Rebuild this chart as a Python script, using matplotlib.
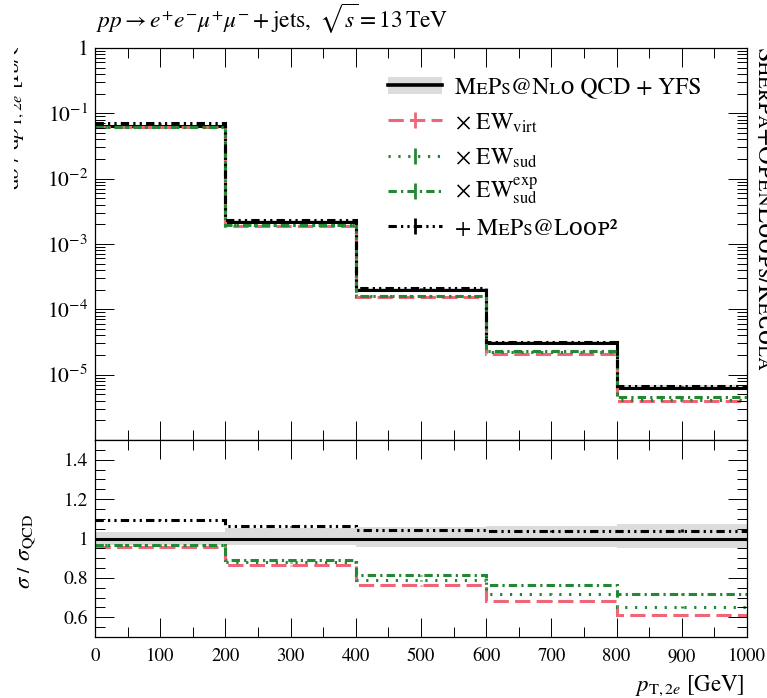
import numpy as np
import matplotlib
matplotlib.use("Agg")
import matplotlib.pyplot as plt
from matplotlib.lines import Line2D
from matplotlib.patches import Rectangle
from matplotlib.transforms import Bbox
from matplotlib.ticker import FixedLocator, FixedFormatter, MultipleLocator, LogLocator, NullFormatter

plt.rcParams['font.family'] = ['STIXGeneral', 'DejaVu Serif', 'DejaVu Sans']
plt.rcParams['mathtext.fontset'] = 'stix'
plt.rcParams['lines.scale_dashes'] = False

# ---------------- data ----------------
bin_edges = [0, 200, 400, 600, 800, 1000]
xsec_qcd = [6.4e-2, 2.19e-3, 2.0e-4, 3.05e-5, 6.35e-6]      # fb/GeV
band_up = [0.032, 0.052, 0.059, 0.062, 0.076]
band_down = [0.035, 0.035, 0.042, 0.042, 0.048]
ratio_ew_virt = [0.956, 0.863, 0.762, 0.683, 0.614]
ratio_ew_sud = [0.965, 0.880, 0.787, 0.720, 0.652]
ratio_ew_sud_exp = [0.968, 0.889, 0.813, 0.762, 0.716]
ratio_loop2 = [1.095, 1.062, 1.044, 1.040, 1.040]
stat_err = [0.003, 0.003, 0.004, 0.005, 0.007]

y_major = [1e0, 1e-1, 1e-2, 1e-3, 1e-4, 1e-5]
y_major_labels = ['1', '$10^{-1}$', '$10^{-2}$', '$10^{-3}$', '$10^{-4}$', '$10^{-5}$']
r_major = [0.6, 0.8, 1.0, 1.2, 1.4]
r_major_labels = ['0.6', '0.8', '1', '1.2', '1.4']

RED = '#EE6677'
GREEN = '#228833'
BLACK = '#000000'
GRAY = '#dcdcdc'

edges = np.array(bin_edges, dtype=float)
centers = 0.5 * (edges[:-1] + edges[1:])
qcd = np.array(xsec_qcd)
up = np.array(band_up)
dn = np.array(band_down)
err = np.array(stat_err)

series = [
    (np.array(ratio_ew_virt), RED, (0, (11, 4.5))),
    (np.array(ratio_ew_sud), GREEN, (0, (1.6, 5.5))),
    (np.array(ratio_ew_sud_exp), GREEN, (0, (6, 3, 1.6, 3))),
    (np.array(ratio_loop2), BLACK, (0, (6, 3, 1.6, 3, 1.6, 3))),
]

W, H = 767, 698
def fx(px):
    return px / W
def fy(py):
    return 1 - py / H

fig = plt.figure(figsize=(W / 100, H / 100), dpi=100)
ax1 = fig.add_axes([fx(95), fy(440), fx(747) - fx(95), fy(48) - fy(440)])
ax2 = fig.add_axes([fx(95), fy(637), fx(747) - fx(95), fy(440) - fy(637)], sharex=ax1)

LW = 2.2
# ---- top panel ----
ax1.stairs(qcd * (1 + up), edges, baseline=qcd * (1 - dn), fill=True, color=GRAY, lw=0)
ax1.stairs(qcd, edges, baseline=None, color=BLACK, lw=LW)
for r, c, ls in series:
    ax1.stairs(qcd * r, edges, baseline=None, color=c, lw=LW, linestyle=ls)
    ax1.errorbar(centers, qcd * r, yerr=qcd * r * err, fmt='none', ecolor=c, elinewidth=2)
ax1.set_yscale('log')
ax1.set_ylim(1e-6, 1)
ax1.set_xlim(0, 1000)
ax1.yaxis.set_major_locator(FixedLocator(y_major))
ax1.yaxis.set_major_formatter(FixedFormatter(y_major_labels))
ax1.yaxis.set_minor_locator(LogLocator(base=10, subs=np.arange(2, 10)))
ax1.yaxis.set_minor_formatter(NullFormatter())

# ---- ratio panel ----
ax2.stairs(1 + up, edges, baseline=1 - dn, fill=True, color=GRAY, lw=0)
ax2.stairs(np.ones_like(qcd), edges, baseline=None, color=BLACK, lw=LW)
for r, c, ls in series:
    ax2.stairs(r, edges, baseline=None, color=c, lw=LW, linestyle=ls)
    ax2.errorbar(centers, r, yerr=r * err, fmt='none', ecolor=c, elinewidth=2)
ax2.set_ylim(0.5, 1.5)
ax2.yaxis.set_major_locator(FixedLocator(r_major))
ax2.yaxis.set_major_formatter(FixedFormatter(r_major_labels))
ax2.yaxis.set_minor_locator(MultipleLocator(0.05))
ax2.xaxis.set_major_locator(MultipleLocator(100))
ax2.xaxis.set_minor_locator(MultipleLocator(50))

for ax in (ax1, ax2):
    ax.tick_params(which='both', direction='in', top=True, right=True, width=0.7, colors='black')
    ax.tick_params(which='major', length=14)
    ax.tick_params(which='minor', length=7)
    ax.tick_params(axis='y', labelsize=14, pad=5)
    ax.tick_params(axis='x', labelsize=13.5, pad=8)
    for s in ax.spines.values():
        s.set_linewidth(0.9)
ax1.tick_params(axis='y', labelsize=15.5)
ax1.tick_params(axis='x', labelbottom=False)

# ---- texts ----
fig.text(fx(96), fy(28), r'$pp \rightarrow e^{+}e^{-}\mu^{+}\mu^{-} + \mathrm{jets},\ \sqrt{s} = 13\,\mathrm{TeV}$',
         fontsize=16.8, ha='left', va='baseline')
fig.text(fx(745), fy(691), r'$p_{\mathrm{T},2e}$ [GeV]', fontsize=16.5, ha='right', va='baseline')

t1 = fig.text(fx(26), fy(190), r'$\mathrm{d}\sigma\ /\ \mathrm{d}p_{\mathrm{T},2e}$ [fb/GeV]', fontsize=16.5,
              rotation=90, ha='right', va='bottom')
t1.set_clip_box(Bbox.from_extents(14, 0, W, H - 48))
t1.set_clip_on(True)
t2 = fig.text(fx(37), fy(551), r'$\sigma\ /\ \sigma_{\mathrm{QCD}}$', fontsize=16.5,
              rotation=90, ha='right', va='center')
t2.set_clip_box(Bbox.from_extents(17, 0, W, H))
t2.set_clip_on(True)

fig.text(fx(751), fy(48), 'Sʜᴇʀᴘᴀ+OᴘᴇɴLᴏᴏᴘs/Rᴇᴄᴏʟᴀ', fontsize=18.5, rotation=270, ha='left', va='top')

# ---- manual legend ----
hx0, hx1 = fx(388), fx(442)
hxc = fx(415)
row_c = [85, 120, 155.7, 190.7, 225.7]
row_b = [93, 130, 165, 197, 235]
labels = ['MᴇPs@Nʟᴏ QCD + YFS',
          r'$\times\ \mathrm{EW}_{\mathrm{virt}}$',
          r'$\times\ \mathrm{EW}_{\mathrm{sud}}$',
          r'$\times\ \mathrm{EW}_{\mathrm{sud}}^{\mathrm{exp}}$',
          '+ MᴇPs@Lᴏᴏᴘ²']

fig.add_artist(Rectangle((hx0, fy(93.5)), hx1 - hx0, fy(76.5) - fy(93.5),
                         transform=fig.transFigure, facecolor=GRAY, edgecolor='none'))
fig.add_artist(Line2D([hx0, hx1], [fy(row_c[0])] * 2, transform=fig.transFigure, color=BLACK, lw=LW + 0.4))
for i, (r, c, ls) in enumerate(series):
    yc = fy(row_c[i + 1])
    fig.add_artist(Line2D([hx0, hx1], [yc, yc], transform=fig.transFigure, color=c, lw=LW, linestyle=ls))
    fig.add_artist(Line2D([hxc], [yc], transform=fig.transFigure, color=c, marker='|',
                          markersize=11, markeredgewidth=2, linestyle='none'))
for i, lab in enumerate(labels):
    fig.text(fx(455), fy(row_b[i]), lab, fontsize=17, ha='left', va='baseline')

fig.savefig('out.png', dpi=100)
